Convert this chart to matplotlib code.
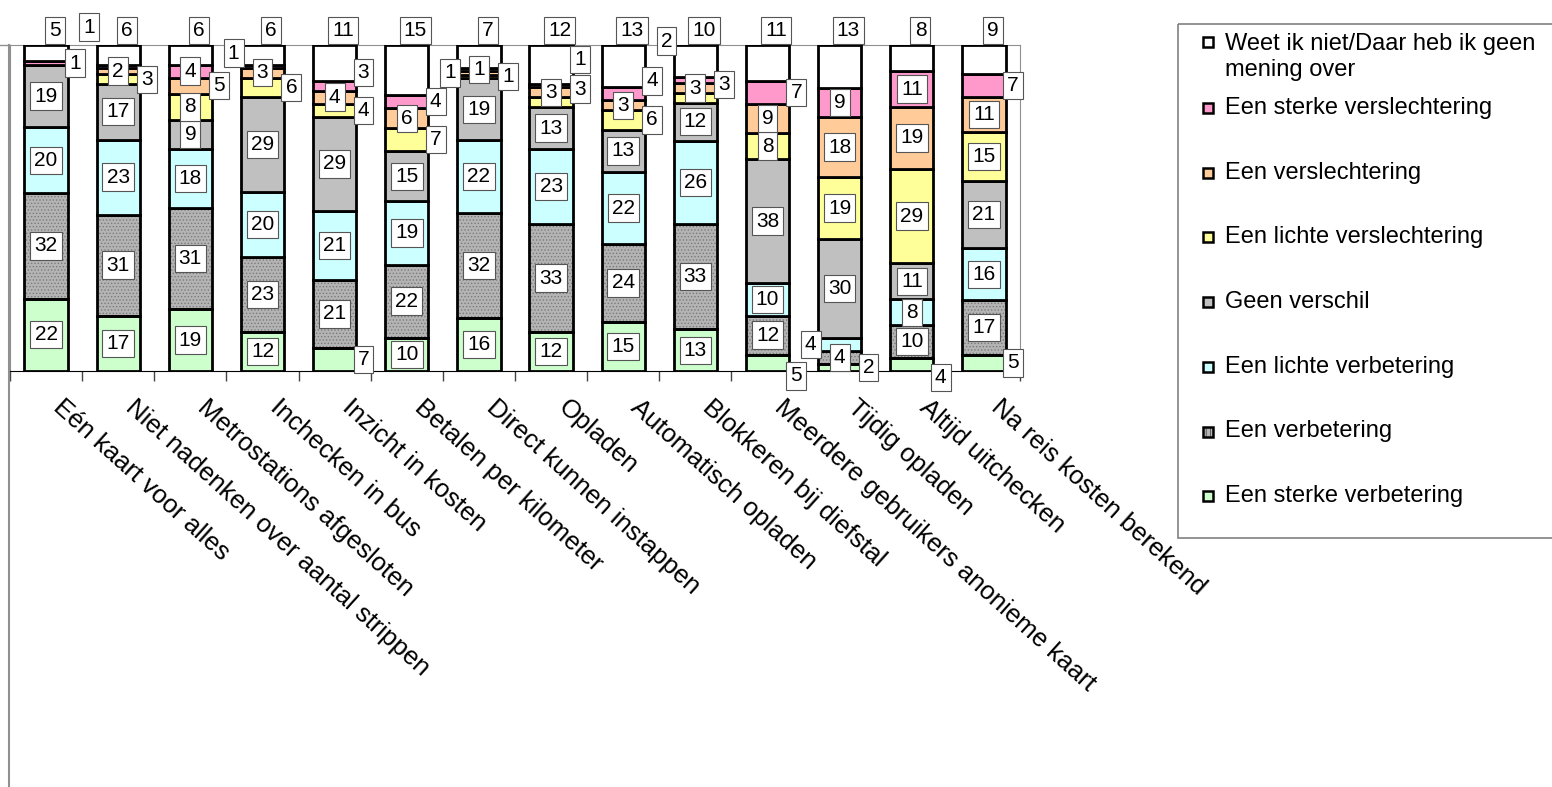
import numpy as np
import matplotlib.pyplot as plt
from matplotlib.patches import Rectangle
from matplotlib.lines import Line2D
from matplotlib.transforms import ScaledTranslation

plt.rcParams['font.family'] = ['Liberation Sans', 'DejaVu Sans']
plt.rcParams['hatch.linewidth'] = 0.6

# categories (x axis)
categories = ['Eén kaart voor alles', 'Niet nadenken over aantal strippen',
              'Metrostations afgesloten', 'Inchecken in bus', 'Inzicht in kosten',
              'Betalen per kilometer', 'Direct kunnen instappen', 'Opladen',
              'Automatisch opladen', 'Blokkeren bij diefstal',
              'Meerdere gebruikers anonieme kaart', 'Tijdig opladen',
              'Altijd uitchecken', 'Na reis kosten berekend']

# series, stacked bottom -> top (percentages)
sterke_verbetering = [22, 17, 19, 12, 7, 10, 16, 12, 15, 13, 5, 2, 4, 5]
verbetering = [32, 31, 31, 23, 21, 22, 32, 33, 24, 33, 12, 4, 10, 17]
lichte_verbetering = [20, 23, 18, 20, 21, 19, 22, 23, 22, 26, 10, 4, 8, 16]
geen_verschil = [19, 17, 9, 29, 29, 15, 19, 13, 13, 12, 38, 30, 11, 21]
lichte_verslechtering = [0, 3, 8, 6, 4, 7, 1, 3, 6, 3, 8, 19, 29, 15]
verslechtering = [0, 2, 5, 3, 4, 6, 1, 3, 3, 3, 9, 18, 19, 11]
sterke_verslechtering = [1, 1, 4, 1, 3, 4, 1, 1, 4, 2, 7, 9, 11, 7]
weet_niet = [5, 6, 6, 6, 11, 15, 7, 12, 13, 10, 11, 13, 8, 9]

series_names = ['Een sterke verbetering', 'Een verbetering', 'Een lichte verbetering',
                'Geen verschil', 'Een lichte verslechtering', 'Een verslechtering',
                'Een sterke verslechtering',
                'Weet ik niet/Daar heb ik geen\nmening over']
colors = ['#ccffcc', '#a8a8a8', '#ccffff', '#c0c0c0', '#ffff99', '#ffcc99',
          '#ff99cc', '#ffffff']

data = np.array([sterke_verbetering, verbetering, lichte_verbetering, geen_verschil,
                 lichte_verslechtering, verslechtering, sterke_verslechtering,
                 weet_niet], dtype=float)
# 100% stacked
pct = data / data.sum(axis=0) * 100
bottoms = np.vstack([np.zeros(pct.shape[1]), np.cumsum(pct, axis=0)[:-1]])

fig = plt.figure(figsize=(15.52, 7.87), dpi=100)
ax = fig.add_axes([10 / 1552, 1 - 371 / 787, 1010 / 1552, 326 / 787])

x = np.arange(len(categories))
width = 0.6
for i, (vals, col) in enumerate(zip(pct, colors)):
    if i == 1:
        # dotted texture for "Een verbetering"
        ax.bar(x, vals, width, bottom=bottoms[i], color='#b4b4b4', edgecolor='#7a7a7a',
               hatch='.....', linewidth=0, zorder=2)
        ax.bar(x, vals, width, bottom=bottoms[i], facecolor='none', edgecolor='black',
               linewidth=2, zorder=3)
    else:
        ax.bar(x, vals, width, bottom=bottoms[i], color=col, edgecolor='black',
               linewidth=2, zorder=3)

# value labels: big segments centred, small ones set beside the bar
box = dict(boxstyle='square,pad=0.2', facecolor='white', edgecolor='#555555', lw=0.8)
placed = []


def box_ext(xc, yc, txt):
    hw = (len(txt) * 0.2 + 0.1) / 2 + 0.01
    hh = 4.3
    return (xc - hw, xc + hw, yc - hh, yc + hh)


def hits(e):
    for p in placed:
        if e[0] < p[1] and p[0] < e[1] and e[2] < p[3] and p[2] < e[3]:
            return True
    return False


def put(xc, yc, txt):
    placed.append(box_ext(xc, yc, txt))
    ax.text(xc, yc, txt, ha='center', va='center', fontsize=15,
            bbox=box, zorder=5, clip_on=False)


top = len(pct) - 1
small = []
for j in range(len(categories)):
    for i in range(len(pct)):
        raw = int(data[i, j])
        if raw <= 0:
            continue
        yc = bottoms[i, j] + pct[i, j] / 2
        if i == top:
            put(x[j] + 0.12, 104.5, str(raw))
        elif raw >= 8:
            put(x[j], yc, str(raw))
        else:
            small.append((j, yc, str(raw)))

for j, yc, txt in small:
    done = False
    for dy in [0, 4, -4, 8, -8, 12, -12]:
        for dx in [0.4, -0.4, 0.0]:
            e = box_ext(x[j] + dx, yc + dy, txt)
            if not hits(e):
                put(x[j] + dx, yc + dy, txt)
                done = True
                break
        if done:
            break
    if not done:
        put(x[j] + 0.4, yc, txt)

ax.set_xlim(-0.5, len(categories) - 0.5)
ax.set_ylim(0, 100)
ax.set_yticks([])
ax.set_xticks(x)
ax.set_xticks(np.arange(len(categories) + 1) - 0.5, minor=True)
ax.tick_params(axis='x', which='major', length=0, pad=0)
ax.tick_params(axis='x', which='minor', length=7, width=1, color='#444444')
ax.set_xticklabels(categories, rotation=-42, ha='left', va='top',
                   rotation_mode='anchor', fontsize=18.5)
off = ScaledTranslation(19 / 100, -24 / 100, fig.dpi_scale_trans)
for lab in ax.get_xticklabels():
    lab.set_transform(lab.get_transform() + off)

for s in ['top', 'right']:
    ax.spines[s].set_color('#909090')
ax.spines['left'].set_color('#909090')
ax.spines['bottom'].set_color('black')

# outer frame line at the left
fig.add_artist(Line2D([9 / 1552, 9 / 1552], [0, 1 - 45 / 787], color='#909090', lw=1.5))
fig.add_artist(Line2D([0, 10 / 1552], [1 - 45 / 787, 1 - 45 / 787], color='#909090', lw=1))

# legend
lax = fig.add_axes([1177 / 1552, 1 - 538 / 787, 375 / 1552, 515 / 787])
lax.set_xlim(1177, 1552)
lax.set_ylim(538, 23)
lax.axis('off')
lax.add_patch(Rectangle((1177.5, 23.5), 420, 514, fill=False, edgecolor='#808080',
                        lw=1.2, clip_on=False))
for k in range(8):
    i = 7 - k
    if k == 0:
        ym, yt = 42, 57
    else:
        ym = 108 + 64.7 * (k - 1)
        yt = ym
    if i == 1:
        lax.add_patch(Rectangle((1203, ym - 5), 10, 10, facecolor='#b4b4b4',
                                edgecolor='#555555', hatch='||||', lw=0))
        lax.add_patch(Rectangle((1203, ym - 5), 10, 10, facecolor='none',
                                edgecolor='black', lw=1.8))
    else:
        lax.add_patch(Rectangle((1203, ym - 5), 10, 10, facecolor=colors[i],
                                edgecolor='black', lw=1.8))
    lax.text(1225, yt, series_names[i], ha='left', va='center', fontsize=17,
             linespacing=1.2)

plt.savefig('out.png', dpi=100)
